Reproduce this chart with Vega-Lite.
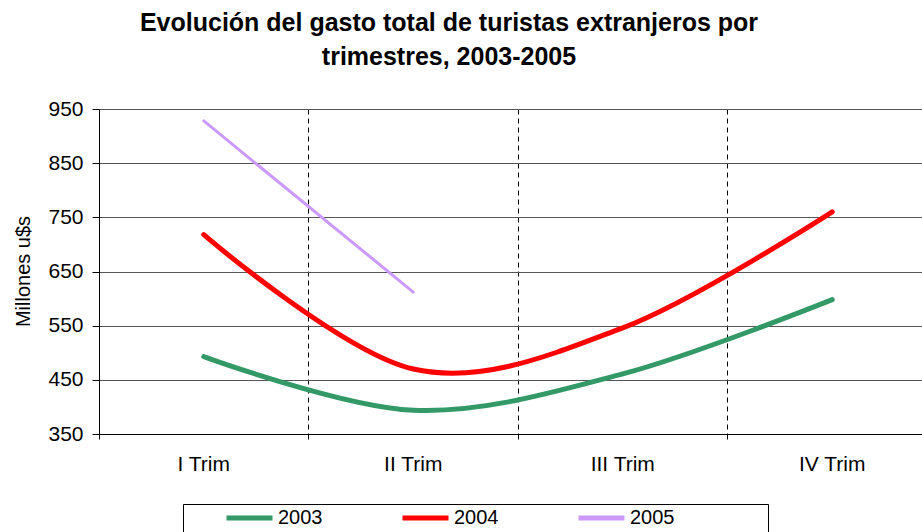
{
  "$schema": "https://vega.github.io/schema/vega-lite/v6.json",
  "autosize": "none",
  "padding": {"left": 99, "top": 109, "right": 0, "bottom": 99},
  "width": 838,
  "height": 325,
  "background": "white",
  "title": {
    "text": ["Evolución del gasto total de turistas extranjeros por", "trimestres, 2003-2005"],
    "font": "Liberation Sans",
    "fontSize": 25,
    "fontWeight": "bold",
    "lineHeight": 34,
    "anchor": "middle",
    "frame": "group",
    "dx": -69,
    "offset": 28,
    "color": "black"
  },
  "data": {
    "values": [
      {"trim": "I Trim", "year": "2003", "value": 493},
      {"trim": "II Trim", "year": "2003", "value": 394},
      {"trim": "III Trim", "year": "2003", "value": 461},
      {"trim": "IV Trim", "year": "2003", "value": 598},
      {"trim": "I Trim", "year": "2004", "value": 718},
      {"trim": "II Trim", "year": "2004", "value": 470},
      {"trim": "III Trim", "year": "2004", "value": 546},
      {"trim": "IV Trim", "year": "2004", "value": 760},
      {"trim": "I Trim", "year": "2005", "value": 928},
      {"trim": "II Trim", "year": "2005", "value": 612}
    ]
  },
  "mark": {"type": "line", "interpolate": "cardinal", "strokeCap": "round", "clip": false},
  "encoding": {
    "x": {
      "field": "trim",
      "type": "nominal",
      "sort": ["I Trim", "II Trim", "III Trim", "IV Trim"],
      "scale": {"type": "band", "paddingInner": 0, "paddingOuter": 0},
      "axis": {
        "title": null,
        "labelAngle": 0,
        "labelFont": "Liberation Sans",
        "labelFontSize": 21,
        "labelColor": "black",
        "labelPadding": 14,
        "bandPosition": 0,
        "grid": true,
        "gridColor": "black",
        "gridDash": [5, 4],
        "gridWidth": 1,
        "ticks": true,
        "tickSize": 5,
        "tickColor": "black",
        "domainColor": "black",
        "domainWidth": 1
      }
    },
    "y": {
      "field": "value",
      "type": "quantitative",
      "scale": {"domain": [350, 950], "nice": false, "zero": false},
      "axis": {
        "title": "Millones u$s",
        "titleFont": "Liberation Sans",
        "titleFontSize": 20,
        "titleFontWeight": "normal",
        "titleColor": "black",
        "titleX": -66,
        "titleY": 162,
        "values": [350, 450, 550, 650, 750, 850, 950],
        "labelFont": "Liberation Sans",
        "labelFontSize": 21,
        "labelColor": "black",
        "labelPadding": 9,
        "tickSize": 7,
        "tickColor": "black",
        "domainColor": "black",
        "grid": true,
        "gridColor": "#555555",
        "gridWidth": 1
      }
    },
    "color": {
      "field": "year",
      "type": "nominal",
      "scale": {"domain": ["2003", "2004", "2005"], "range": ["#339966", "#FF0000", "#CC99FF"]},
      "legend": {
        "title": null,
        "orient": "none",
        "legendX": 84,
        "legendY": 395,
        "direction": "horizontal",
        "padding": 4,
        "clipHeight": 20,
        "strokeColor": "black",
        "fillColor": "white",
        "symbolType": "stroke",
        "symbolSize": 2116,
        "symbolStrokeWidth": 5,
        "symbolOffset": 37,
        "labelOffset": 3,
        "labelFont": "Liberation Sans",
        "labelFontSize": 20,
        "labelColor": "black",
        "labelLimit": 300,
        "columnPadding": 40,
        "labelExpr": "datum.label == '2005' ? datum.label + '\u00a0\u00a0\u00a0\u00a0\u00a0\u00a0\u00a0\u00a0\u00a0\u00a0\u00a0\u00a0\u00a0\u00a0\u00a0\u00a0\u200b' : datum.label"
      }
    },
    "strokeWidth": {
      "condition": {"test": "datum.year === '2005'", "value": 3},
      "value": 5
    }
  }
}
